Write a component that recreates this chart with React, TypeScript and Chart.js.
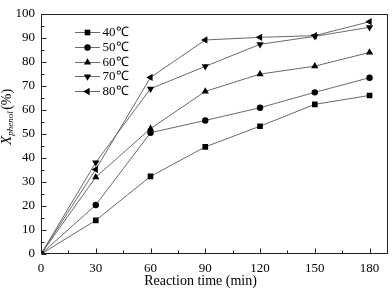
import React, { useEffect, useRef } from "react";
import { Chart, registerables } from "chart.js";
import { drawPoint } from "chart.js/helpers";

Chart.register(...registerables);

const xValues = [0, 30, 60, 90, 120, 150, 180];
const s40 = [0, 14.0, 32.3, 44.6, 53.2, 62.3, 66.0];
const s50 = [0, 20.4, 50.5, 55.6, 60.9, 67.3, 73.4];
const s60 = [0, 32.0, 52.2, 67.7, 74.9, 78.2, 83.9];
const s70 = [0, 38.1, 68.8, 78.1, 87.3, 90.6, 94.4];
const s80 = [0, 35.2, 73.5, 89.1, 90.2, 90.9, 96.7];
const seriesLabels = ["40℃", "50℃", "60℃", "70℃", "80℃"];
const xTickValues = [0, 30, 60, 90, 120, 150, 180];
const yTickValues = [0, 10, 20, 30, 40, 50, 60, 70, 80, 90, 100];
const xTitle = "Reaction time (min)";

const FONT = "'Liberation Serif', 'Times New Roman', serif";
const LINE = "#6a6a6a";

const styles = [
  { pointStyle: "rect", rotation: 0, radius: 4 },
  { pointStyle: "circle", rotation: 0, radius: 3.2 },
  { pointStyle: "triangle", rotation: 0, radius: 4.2 },
  { pointStyle: "triangle", rotation: 180, radius: 4.2 },
  { pointStyle: "triangle", rotation: 270, radius: 4.2 },
];

const decorPlugin = {
  id: "decor",
  afterDraw(chart: any) {
    const ctx = chart.ctx;
    const { left, right, top, bottom } = chart.chartArea;
    const xs = chart.scales.x;
    const ys = chart.scales.y;
    ctx.save();
    ctx.strokeStyle = "#222";
    ctx.lineWidth = 1;
    ctx.strokeRect(Math.round(left) + 0.5, Math.round(top) + 0.5, Math.round(right - left) - 1, Math.round(bottom - top) - 1);
    ctx.beginPath();
    const bx = Math.round(left) + 0.5;
    const by = Math.round(bottom) - 0.5;
    for (let v = 0; v <= 100; v += 5) {
      const y = Math.round(ys.getPixelForValue(v)) + 0.5;
      const len = v % 10 === 0 ? 5 : 3;
      ctx.moveTo(bx, y);
      ctx.lineTo(bx + len, y);
    }
    for (let v = 0; v <= 180; v += 15) {
      const x = Math.round(xs.getPixelForValue(v)) + 0.5;
      const len = v % 30 === 0 ? 5 : 3;
      ctx.moveTo(x, by);
      ctx.lineTo(x, by - len);
    }
    ctx.stroke();

    // legend
    chart.data.datasets.forEach((ds: any, i: number) => {
      const y = 32.3 + i * 14.7;
      ctx.strokeStyle = LINE;
      ctx.beginPath();
      ctx.moveTo(75, Math.round(y) + 0.5);
      ctx.lineTo(100, Math.round(y) + 0.5);
      ctx.stroke();
      ctx.fillStyle = "#000";
      drawPoint(ctx, { pointStyle: styles[i].pointStyle, rotation: styles[i].rotation, radius: styles[i].radius, borderWidth: 0 } as any, 87.5, Math.round(y) + 0.5);
      ctx.font = `13px ${FONT}`;
      ctx.textBaseline = "middle";
      ctx.textAlign = "left";
      ctx.fillText(ds.label, 102.5, y + 0.5);
    });

    // x title
    ctx.fillStyle = "#000";
    ctx.font = `14px ${FONT}`;
    ctx.textAlign = "center";
    ctx.textBaseline = "alphabetic";
    ctx.fillText(xTitle, 200.5, 285);

    // y title
    ctx.translate(11, 145);
    ctx.rotate(-Math.PI / 2);
    ctx.textAlign = "left";
    ctx.font = `italic 15px ${FONT}`;
    ctx.fillText("X", 0, 0);
    const wX = ctx.measureText("X").width;
    ctx.font = `italic 9px ${FONT}`;
    ctx.fillText("phenol", wX, 2);
    const wS = ctx.measureText("phenol").width;
    ctx.font = `14px ${FONT}`;
    ctx.fillText("(%)", wX + wS + 1.5, 0);
    ctx.restore();
  },
};

export default function App() {
  const ref = useRef<HTMLCanvasElement>(null);
  useEffect(() => {
    document.body.style.margin = "0";
    const all = [s40, s50, s60, s70, s80];
    const chart = new Chart(ref.current!, {
      type: "line",
      data: {
        datasets: all.map((arr, i) => ({
          label: seriesLabels[i],
          data: arr.map((v, j) => ({ x: xValues[j], y: v })),
          borderColor: LINE,
          borderWidth: 1,
          backgroundColor: "#000",
          pointBackgroundColor: "#000",
          pointBorderWidth: 0,
          pointStyle: styles[i].pointStyle as any,
          pointRotation: styles[i].rotation,
          pointRadius: styles[i].radius,
          tension: 0,
        })),
      },
      options: {
        animation: false,
        responsive: false,
        layout: { padding: { top: 6, right: 2, left: 0, bottom: 0 } },
        plugins: { legend: { display: false }, tooltip: { enabled: false } },
        scales: {
          x: {
            type: "linear",
            min: 0,
            max: 190,
            afterFit: (s: any) => { s.height = 36; },
            afterBuildTicks: (s: any) => { s.ticks = xTickValues.map((v) => ({ value: v })); },
            grid: { display: false, drawTicks: false },
            border: { display: false },
            ticks: { font: { family: FONT, size: 13 }, color: "#000", padding: 7, maxRotation: 0 },
          },
          y: {
            type: "linear",
            min: 0,
            max: 100,
            afterFit: (s: any) => { s.width = 41; },
            afterBuildTicks: (s: any) => { s.ticks = yTickValues.map((v) => ({ value: v })); },
            grid: { display: false, drawTicks: false },
            border: { display: false },
            ticks: { font: { family: FONT, size: 13 }, color: "#000", padding: 6 },
          },
        },
      },
      plugins: [decorPlugin],
    });
    return () => chart.destroy();
  }, []);
  return (
    <div style={{ width: 392, height: 290 }}>
      <canvas ref={ref} width={392} height={290} />
    </div>
  );
}
